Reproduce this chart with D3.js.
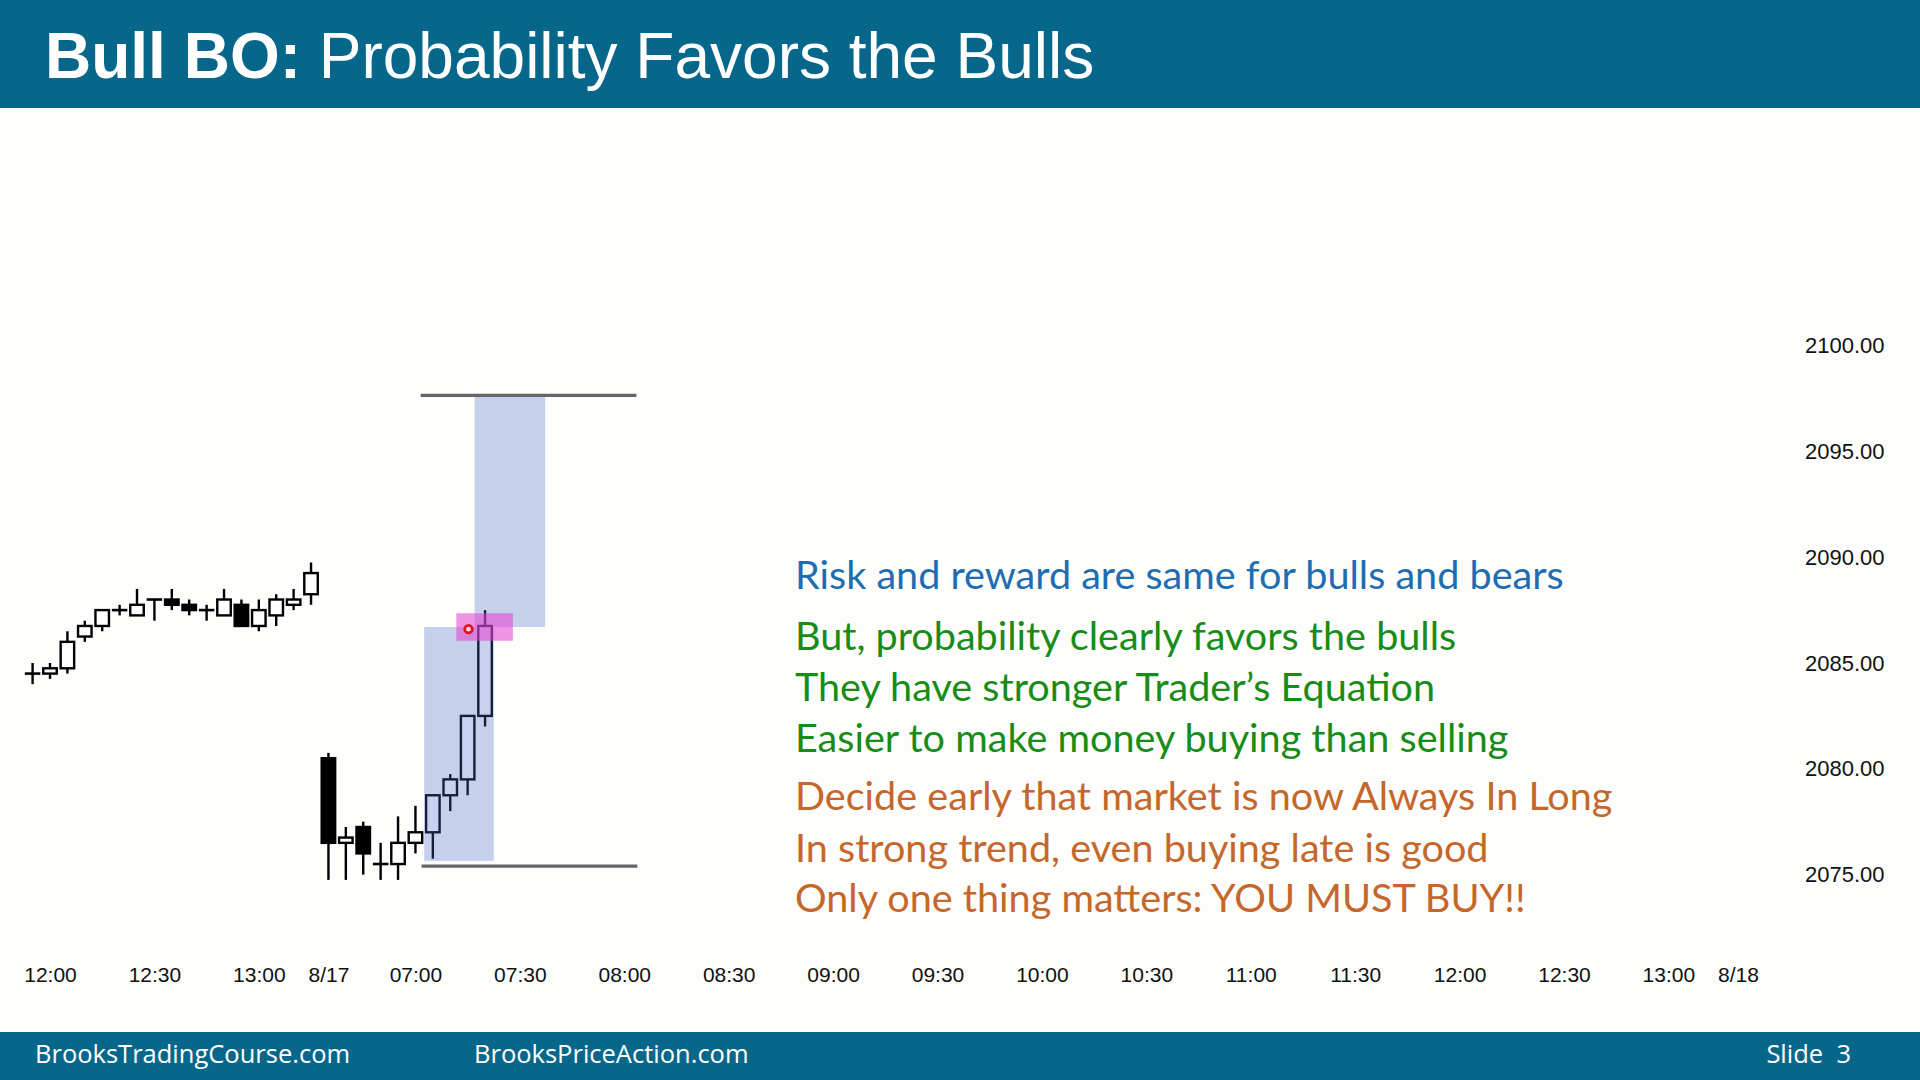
<!DOCTYPE html>
<html>
<head>
<meta charset="utf-8">
<script src="https://cdn.jsdelivr.net/npm/d3@7"></script>
<style>
  html, body { margin: 0; padding: 0; background: #fdfdfb; }
  svg { display: block; }
</style>
</head>
<body>
<svg id="chart" width="1920" height="1080"></svg>
<script>
// ---------- DATA ----------
// bar slot (5-minute bars; 0 = 8/16 12:00), and OHLC
const barTimes = ["11:55","12:00","12:05","12:10","12:15","12:20","12:25","12:30","12:35","12:40","12:45","12:50","12:55","13:00","13:05","13:10","13:15",
                  "06:35","06:40","06:45","06:50","06:55","07:00","07:05","07:10","07:15","07:20"];
const barSlots = [-1,0,1,2,3,4,5,6,7,8,9,10,11,12,13,14,15,16,17,18,19,20,21,22,23,24,25];
const opens  = [2084.5,2084.5,2084.75,2086.25,2086.75,2087.5,2087.25,2088.0,2088.0,2087.75,2087.5,2087.25,2087.75,2086.75,2087.25,2087.75,2088.25,
                2080.5,2076.5,2077.25,2075.5,2075.5,2076.5,2077.0,2078.75,2079.5,2082.5];
const highs  = [2085.0,2085.0,2086.5,2087.0,2087.5,2087.75,2088.5,2088.0,2088.5,2088.0,2087.75,2088.5,2088.0,2088.0,2088.25,2088.5,2089.75,
                2080.75,2077.25,2077.5,2076.5,2077.75,2078.25,2078.75,2079.75,2082.5,2087.5];
const lows   = [2084.0,2084.25,2084.5,2086.0,2086.5,2087.25,2087.25,2087.0,2087.5,2087.25,2087.0,2087.25,2086.75,2086.5,2086.75,2087.5,2087.75,
                2074.75,2074.75,2075.0,2074.75,2074.75,2076.0,2075.75,2078.0,2078.75,2082.0];
const closes = [2084.5,2084.75,2086.0,2086.75,2087.5,2087.5,2087.75,2088.0,2087.75,2087.5,2087.5,2088.0,2086.75,2087.5,2088.0,2088.0,2089.25,
                2076.5,2076.75,2076.0,2075.5,2076.5,2077.0,2078.75,2079.5,2082.5,2086.75];

// x-axis ticks
const tickSlots  = [0,6,12,16,21,27,33,39,45,51,57,63,69,75,81,87,93,97];
const tickLabels = ["12:00","12:30","13:00","8/17","07:00","07:30","08:00","08:30","09:00","09:30","10:00","10:30","11:00","11:30","12:00","12:30","13:00","8/18"];
// y-axis ticks
const priceTicks = [2075, 2080, 2085, 2090, 2095, 2100];

// measured-move boxes: [slotStart, slotEnd, priceLow, priceHigh]
const blueBoxes = [[21.5, 25.5, 2075.65, 2086.7], [24.4, 28.45, 2086.7, 2097.6]];
const pinkBox   = [23.35, 26.6, 2086.05, 2087.35];
const levelLines = [[21.3, 33.7, 2097.65], [21.35, 33.75, 2075.4]];
const entryMark = [24.05, 2086.6];

// annotation text
const titleBold = "Bull BO:";
const titleRest = " Probability Favors the Bulls";
const notesBlue   = ["Risk and reward are same for bulls and bears"];
const notesGreen  = ["But, probability clearly favors the bulls", "They have stronger Trader\u2019s Equation", "Easier to make money buying than selling"];
const notesOrange = ["Decide early that market is now Always In Long", "In strong trend, even buying late is good", "Only one thing matters: YOU MUST BUY!!"];
const footerLeft = ["BrooksTradingCourse.com", "BrooksPriceAction.com"];
const footerRight = "Slide  3";

// ---------- DRAW ----------
const svg = d3.select("#chart");
const W = 1920, H = 1080;
const teal = "#07678a";

svg.append("rect").attr("width", W).attr("height", H).attr("fill", "#fdfdfb");

const x = d3.scaleLinear().domain([0, 97]).range([50, 1738]);
const y = d3.scaleLinear().domain([2075, 2100]).range([874.6, 345.6]);

// header
svg.append("rect").attr("x", 0).attr("y", 0).attr("width", W).attr("height", 108).attr("fill", teal);
const title = svg.append("text").attr("x", 45).attr("y", 78)
  .attr("font-family", "'Liberation Sans', Arial, sans-serif").attr("font-size", 64).attr("fill", "#ffffff");
title.append("tspan").attr("font-weight", "bold").text(titleBold);
title.append("tspan").text(titleRest);

// footer
svg.append("rect").attr("x", 0).attr("y", 1032).attr("width", W).attr("height", 48).attr("fill", teal);
const footerX = [35, 474];
svg.selectAll("text.footl").data(footerLeft).join("text").attr("class", "footl")
  .attr("x", (d, i) => footerX[i]).attr("y", 1063)
  .attr("font-family", "'Open Sans', sans-serif").attr("font-size", 25.5).attr("fill", "#ffffff")
  .text(d => d);
svg.append("text").attr("x", 1851).attr("y", 1063).attr("text-anchor", "end")
  .attr("font-family", "'Open Sans', sans-serif").attr("font-size", 25.5).attr("fill", "#ffffff")
  .attr("xml:space", "preserve").style("white-space", "pre").text(footerRight);

// axes
const xAxis = d3.axisBottom(x).tickValues(tickSlots).tickFormat((d, i) => tickLabels[i]).tickSize(0).tickPadding(0);
const gx = svg.append("g").attr("transform", "translate(0,967)").call(xAxis);
gx.select(".domain").remove();
gx.selectAll("text").attr("font-family", "'Liberation Sans', Arial, sans-serif").attr("font-size", 21).attr("fill", "#111")
  .attr("dy", "0.71em");

const yAxis = d3.axisRight(y).tickValues(priceTicks).tickFormat(d3.format(".2f")).tickSize(0).tickPadding(0);
const gy = svg.append("g").attr("transform", "translate(1805,0)").call(yAxis);
gy.select(".domain").remove();
gy.selectAll("text").attr("font-family", "'Liberation Sans', Arial, sans-serif").attr("font-size", 22).attr("fill", "#111");

// candles
const bars = barSlots.map((s, i) => ({s, t: barTimes[i], o: opens[i], h: highs[i], l: lows[i], c: closes[i]}));
const bw = 13.5;
const gc = svg.append("g");
gc.selectAll("line.wick").data(bars).join("line").attr("class", "wick")
  .attr("x1", d => x(d.s)).attr("x2", d => x(d.s))
  .attr("y1", d => y(d.h)).attr("y2", d => y(d.l))
  .attr("stroke", "#000").attr("stroke-width", 2.4);
gc.selectAll("rect.body").data(bars.filter(d => d.o !== d.c)).join("rect").attr("class", "body")
  .attr("x", d => x(d.s) - bw / 2).attr("width", bw)
  .attr("y", d => y(Math.max(d.o, d.c))).attr("height", d => Math.abs(y(d.o) - y(d.c)))
  .attr("fill", d => d.c > d.o ? "#ffffff" : "#000000")
  .attr("stroke", "#000").attr("stroke-width", 2.4);
gc.selectAll("line.doji").data(bars.filter(d => d.o === d.c)).join("line").attr("class", "doji")
  .attr("x1", d => x(d.s) - bw / 2 - 1).attr("x2", d => x(d.s) + bw / 2 + 1)
  .attr("y1", d => y(d.o)).attr("y2", d => y(d.o))
  .attr("stroke", "#000").attr("stroke-width", 2.6);

// overlays
svg.selectAll("rect.blue").data(blueBoxes).join("rect").attr("class", "blue")
  .attr("x", d => x(d[0])).attr("width", d => x(d[1]) - x(d[0]))
  .attr("y", d => y(d[3])).attr("height", d => y(d[2]) - y(d[3]))
  .attr("fill", "rgb(70,110,200)").attr("fill-opacity", 0.3);
svg.append("rect")
  .attr("x", x(pinkBox[0])).attr("width", x(pinkBox[1]) - x(pinkBox[0]))
  .attr("y", y(pinkBox[3])).attr("height", y(pinkBox[2]) - y(pinkBox[3]))
  .attr("fill", "rgb(232,60,210)").attr("fill-opacity", 0.55);
svg.append("circle").attr("cx", x(entryMark[0])).attr("cy", y(entryMark[1])).attr("r", 3.8)
  .attr("fill", "#ffe0f0").attr("stroke", "#e8101a").attr("stroke-width", 2.8);
svg.selectAll("line.level").data(levelLines).join("line").attr("class", "level")
  .attr("x1", d => x(d[0])).attr("x2", d => x(d[1]))
  .attr("y1", d => y(d[2])).attr("y2", d => y(d[2]))
  .attr("stroke", "#666").attr("stroke-width", 3.4);

// notes
const noteFont = "Lato, 'Open Sans', sans-serif";
const noteSize = 39.6;
function notes(arr, ys, color) {
  svg.append("g").selectAll("text").data(arr).join("text")
    .attr("x", 795).attr("y", (d, i) => ys[i])
    .attr("font-family", noteFont).attr("font-size", noteSize).attr("fill", color).text(d => d);
}
notes(notesBlue, [589], "#1f6db1");
notes(notesGreen, [650, 701, 752], "#178c17");
notes(notesOrange, [810, 862, 912], "#c5672a");
</script>
</body>
</html>
